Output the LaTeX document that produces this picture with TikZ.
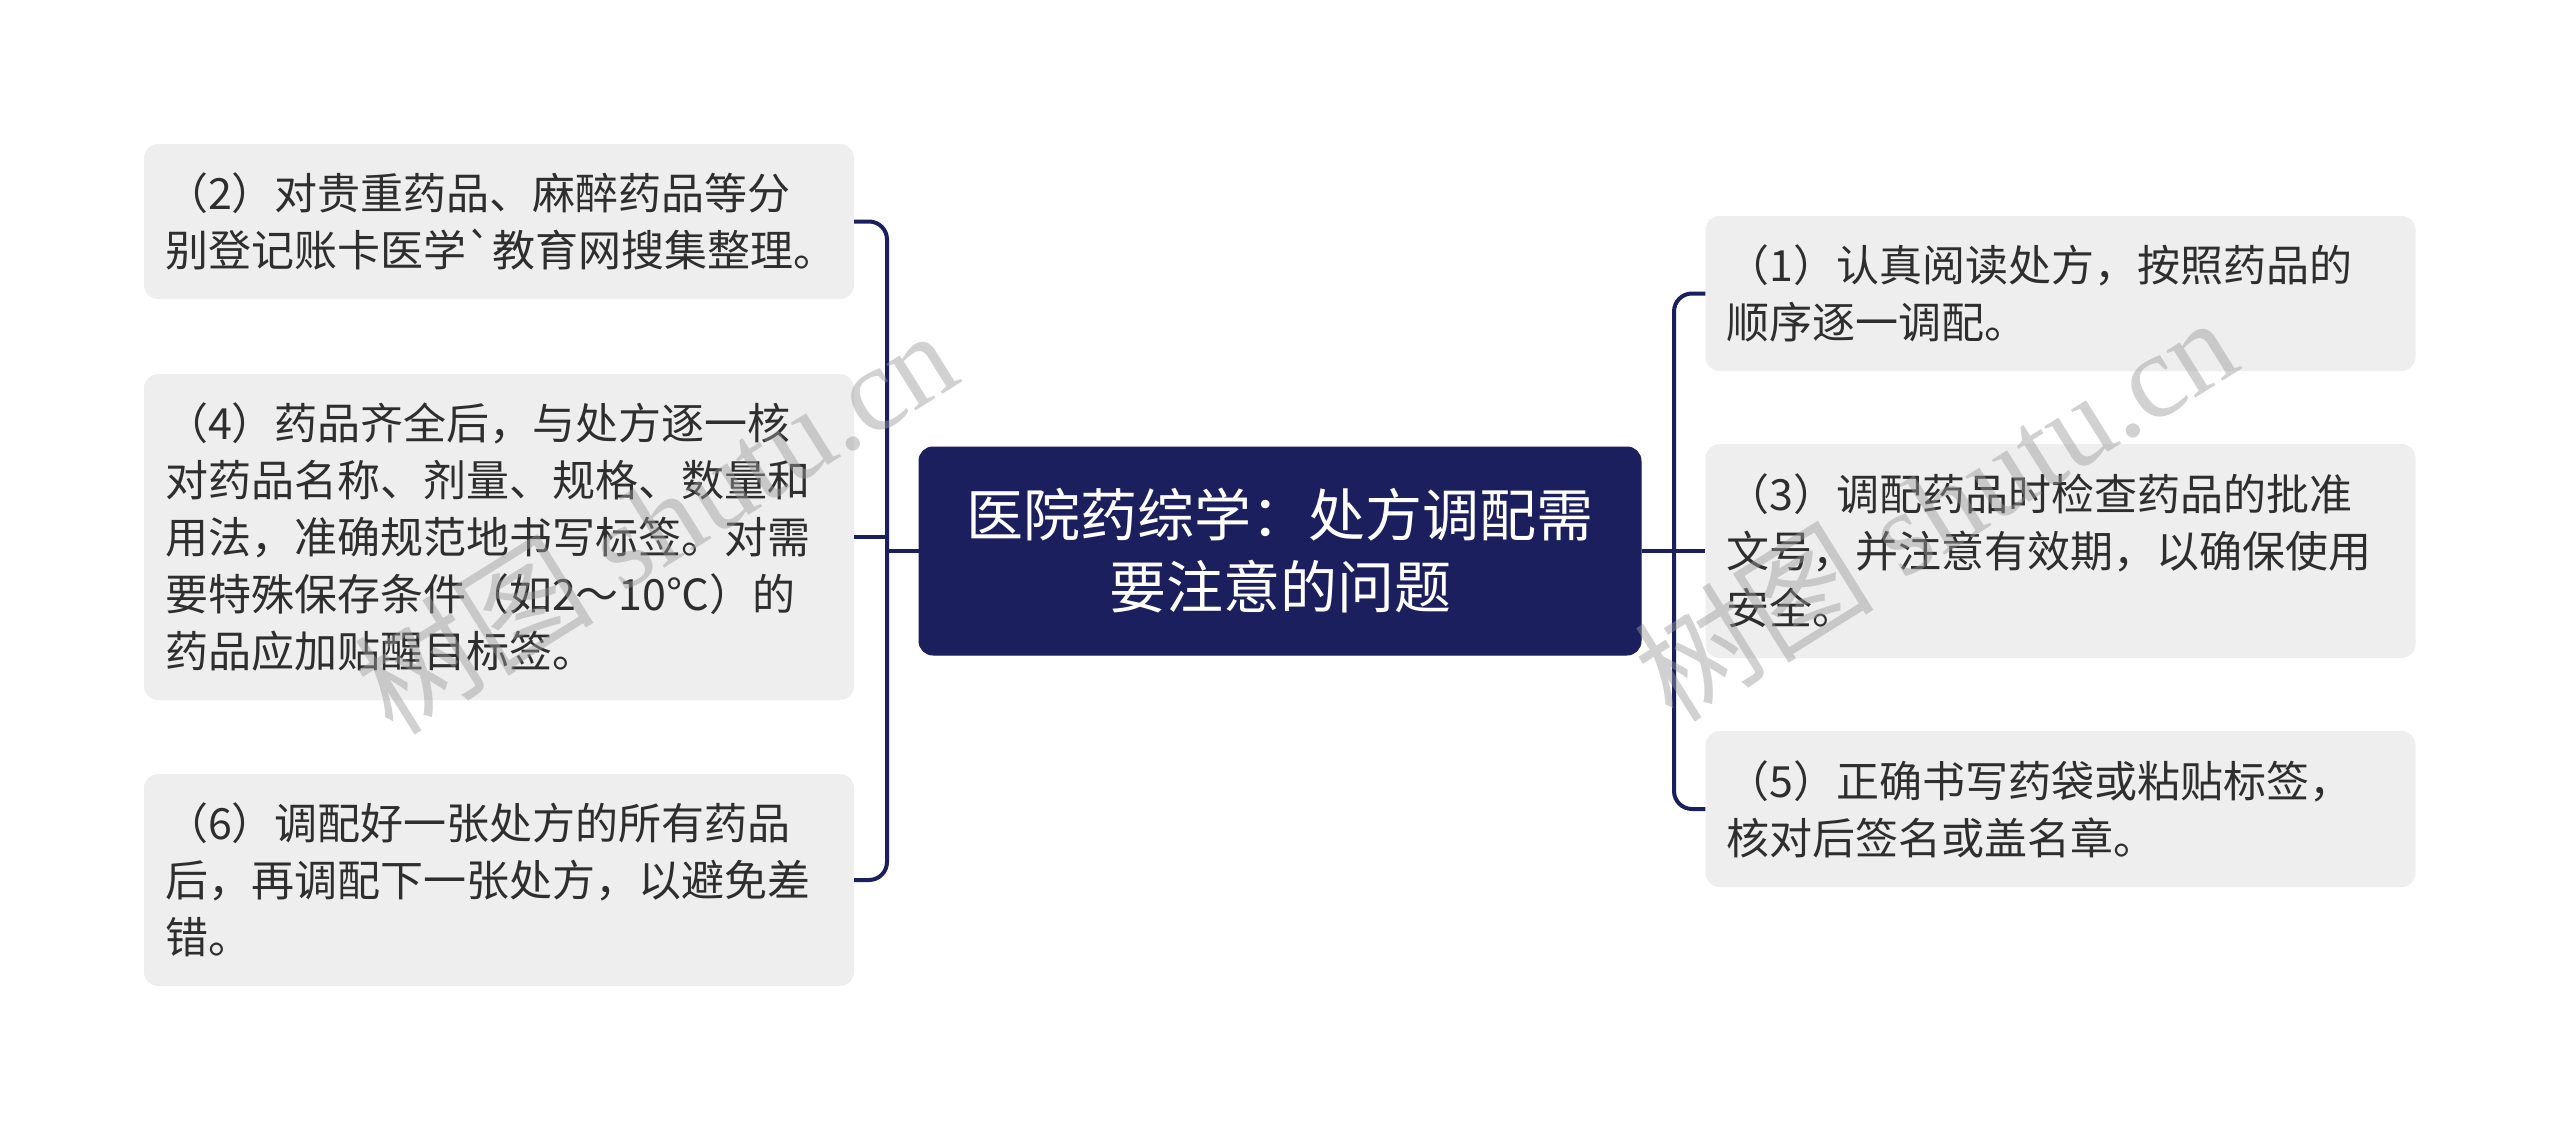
\documentclass[tikz,border=0pt]{standalone}
\usepackage{fontspec}
\newfontfamily\cjk{Noto Sans CJK SC}
\newfontfamily\wmserif{Liberation Serif}
\definecolor{navy}{HTML}{1B1F5E}
\definecolor{boxgray}{HTML}{EEEEEE}
\definecolor{txt}{HTML}{2E2E2E}
\definecolor{wm}{HTML}{9A9A9A}
\begin{document}
\begin{tikzpicture}[x=1pt,y=-1pt,
  leaf/.style={fill=boxgray, rounded corners=14, text=txt, align=left,
    text width=668pt, inner xsep=21pt, inner ysep=0pt, minimum width=710pt,
    font=\cjk\fontsize{43}{57}\selectfont},
  rootbox/.style={fill=navy, draw=navy, line width=1pt, rounded corners=14, text=white, align=center,
    minimum width=722pt, minimum height=208pt, inner sep=0pt,
    font=\cjk\fontsize{57}{72}\selectfont},
  link/.style={draw=navy, line width=4pt, rounded corners=18},
  wmark/.style={text=wm, opacity=0.45, rotate=32, inner sep=0pt}]
\useasboundingbox (0,0) rectangle (2560,1132);
\fill[white] (0,0) rectangle (2560,1132);

\node[rootbox] (root) at (1280,551) {医院药综学：处方调配需\\要注意的问题};

\node[leaf, minimum height=155pt] (l1) at (499,221.5) {（2）对贵重药品、麻醉药品等分\\别登记账卡医学`教育网搜集整理。};
\node[leaf, minimum height=326pt] (l2) at (499,537) {（4）药品齐全后，与处方逐一核\\对药品名称、剂量、规格、数量和\\用法，准确规范地书写标签。对需\\要特殊保存条件（如2～10℃）的\\药品应加贴醒目标签。};
\node[leaf, minimum height=212pt] (l3) at (499,880) {（6）调配好一张处方的所有药品\\后，再调配下一张处方，以避免差\\错。};

\node[leaf, minimum height=155pt] (r1) at (2060.5,293.5) {（1）认真阅读处方，按照药品的\\顺序逐一调配。};
\node[leaf, minimum height=214pt] (r2) at (2060.5,551) {（3）调配药品时检查药品的批准\\文号，并注意有效期，以确保使用\\安全。};
\node[leaf, minimum height=156pt] (r3) at (2060.5,809) {（5）正确书写药袋或粘贴标签，\\核对后签名或盖名章。};

\coordinate (bl) at (887,551);
\coordinate (br) at (1674,551);

\draw[link] (root.west) -- (bl);
\draw[link] (l1.east) -| (bl) |- (l3.east);
\draw[link] (l2.east) -- (l2.east -| bl);
\draw[link] (root.east) -- (r2.west);
\draw[link] (r1.west) -| (br) |- (r3.west);

\node[wmark] (wm1) at (655,520) {\cjk\fontsize{120}{120}\selectfont 树图\wmserif\ shutu.cn};
\node[wmark] (wm2) at (1935,507) {\cjk\fontsize{120}{120}\selectfont 树图\wmserif\ shutu.cn};
\end{tikzpicture}
\end{document}
